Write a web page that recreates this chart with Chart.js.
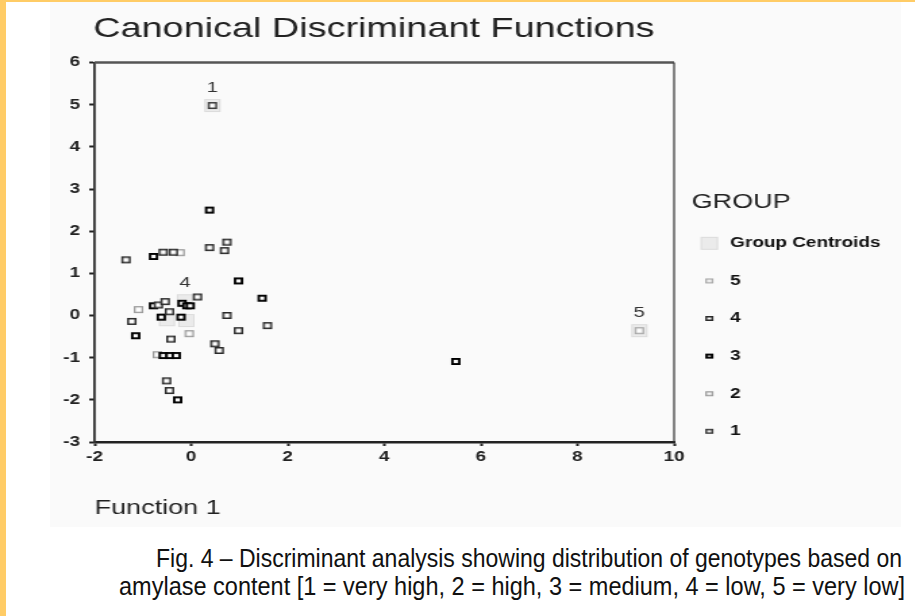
<!DOCTYPE html>
<html>
<head>
<meta charset="utf-8">
<script src="https://cdn.jsdelivr.net/npm/chart.js@4.4.1/dist/chart.umd.min.js"></script>
<style>
  html, body { margin: 0; padding: 0; }
  body { width: 915px; height: 616px; background: #fff; position: relative; overflow: hidden;
         font-family: "Liberation Sans", Arial, sans-serif; }
  #stripeL { position: absolute; left: 0; top: 0; width: 6px; height: 616px; background: #ffcc66; }
  #stripeT { position: absolute; left: 0; top: 0; width: 915px; height: 2px; background: #ffcc66; }
  #panel { position: absolute; left: 50px; top: 2px; width: 851px; height: 525px; background: #fafafa; }
  .cap { position: absolute; font-size: 26px; line-height: 26px; color: #111; white-space: nowrap; transform-origin: 0 0; }
</style>
</head>
<body>
<div id="stripeL"></div>
<div id="stripeT"></div>
<div id="panel"><canvas id="plot" width="630" height="525" style="width:851px;height:525px"></canvas></div>
<div class="cap" data-w="746" style="left:156px; top:545px;">Fig. 4 – Discriminant analysis showing distribution of genotypes based on</div>
<div class="cap" data-w="786" style="left:119px; top:573px;">amylase content [1 = very high, 2 = high, 3 = medium, 4 = low, 5 = very low]</div>
<script>
// tick values
const X_TICKS = [-2, 0, 2, 4, 6, 8, 10];
const Y_TICKS = [-3, -2, -1, 0, 1, 2, 3, 4, 5, 6];

// legend entries, top to bottom
const groupNames = ['Group Centroids', '5', '4', '3', '2', '1'];

// centroids of groups 1..5
const centroidX = [0.44, -0.50, -0.10, -0.13, 9.28];
const centroidY = [4.98, -0.10, -0.12, 0.35, -0.36];
const centroidTags = ['1', '', '', '4', '5'];

// genotypes (function 1, function 2) per group
const g1X = [0.44];
const g1Y = [4.98];
const g2X = [-0.23, -1.09, -0.04, -0.70];
const g2Y = [1.49, 0.14, -0.43, -0.93];
const g3X = [0.38, -0.78, 0.98, 1.47, -0.19, -0.09, -0.02, -0.78, -0.62, -0.21, -1.15, -0.58, -0.44, -0.31, -0.28, 5.48];
const g3Y = [2.50, 1.40, 0.82, 0.41, 0.29, 0.23, 0.23, 0.23, -0.04, -0.04, -0.48, -0.95, -0.95, -0.95, -2.00, -1.09];
const g4X = [0.38, 0.74, 0.69, -1.35, -0.58, -0.37, 0.13, -0.68, -0.54, -0.45, -1.23, 0.74, 0.98, 1.58, -0.42, 0.49, 0.58, -0.51, -0.45];
const g4Y = [1.61, 1.74, 1.54, 1.32, 1.50, 1.50, 0.44, 0.25, 0.33, 0.09, -0.14, 0.00, -0.36, -0.24, -0.56, -0.67, -0.83, -1.55, -1.78];
const g5X = [9.28];
const g5Y = [-0.36];

function pts(xs, ys) { return xs.map((x, i) => ({ x: x, y: ys[i] })); }

// little square markers drawn once and used as point styles
function markerCanvas(w, h, stroke, fill, lw, shift) {
  shift = shift || 0;
  const c = document.createElement('canvas');
  c.width = Math.ceil(w + 2 + 2 * Math.abs(shift));
  c.height = Math.ceil(h + 2);
  const g = c.getContext('2d');
  const x0 = (c.width - w) / 2 + shift, y0 = (c.height - h) / 2;
  g.fillStyle = fill;
  g.fillRect(x0, y0, w, h);
  g.strokeStyle = stroke;
  g.lineWidth = lw;
  g.strokeRect(x0 + lw / 2, y0 + lw / 2, w - lw, h - lw);
  return c;
}

const looks = [
  { stroke: '#dcdcdc', fill: '#ebebeb', lw: 1 },   // centroids
  { stroke: '#a8a8a8', fill: '#fdfdfd', lw: 1.3 }, // 5
  { stroke: '#2a2a2a', fill: '#fdfdfd', lw: 1.5 }, // 4
  { stroke: '#000000', fill: '#fafafa', lw: 1.9 }, // 3
  { stroke: '#9a9a9a', fill: '#fdfdfd', lw: 1.3 }, // 2
  { stroke: '#3a3a3a', fill: '#fdfdfd', lw: 1.5 }  // 1
];
const plotImgs = looks.map((l, i) => i === 0 ? markerCanvas(12, 13, l.stroke, l.fill, l.lw)
                                             : markerCanvas(7, 7, l.stroke, l.fill, l.lw));
const legendImgs = looks.map((l, i) => i === 0 ? markerCanvas(13, 13, l.stroke, l.fill, l.lw, -3)
                                               : markerCanvas(6, 5, l.stroke, l.fill, l.lw, -3));

const seriesData = [
  pts(centroidX, centroidY),
  pts(g5X, g5Y),
  pts(g4X, g4Y),
  pts(g3X, g3Y),
  pts(g2X, g2Y),
  pts(g1X, g1Y)
];

// top and right edges of the plot frame
const frame = {
  id: 'frame',
  beforeDatasetsDraw(chart) {
    const ctx = chart.ctx, a = chart.chartArea;
    ctx.save();
    ctx.strokeStyle = '#555';
    ctx.lineWidth = 2.5;
    ctx.beginPath(); ctx.moveTo(a.left, a.top); ctx.lineTo(a.right, a.top); ctx.stroke();
    ctx.strokeStyle = '#333';
    ctx.lineWidth = 1.2;
    ctx.beginPath(); ctx.moveTo(a.right, a.top); ctx.lineTo(a.right, a.bottom); ctx.stroke();
    ctx.restore();
  }
};

// fixed legend width, and the GROUP heading nudged in a little
const legendFit = {
  id: 'legendFit',
  beforeLayout(chart) {
    const lg = chart.legend;
    if (!lg || lg._fixed) return;
    const fit = lg.fit;
    lg.fit = function () { fit.call(this); this.width = 160; };
    ['drawTitle', '_drawTitle'].forEach(name => {
      const orig = lg[name];
      if (typeof orig !== 'function') return;
      lg[name] = function () {
        this.ctx.save();
        this.ctx.translate(13, 0);
        orig.apply(this, arguments);
        this.ctx.restore();
      };
    });
    lg._fixed = true;
  }
};

// group numbers written above the centroids
const centroidLabels = {
  id: 'centroidLabels',
  afterDatasetsDraw(chart) {
    const ctx = chart.ctx;
    const meta = chart.getDatasetMeta(0);
    ctx.save();
    ctx.font = '15px "Liberation Sans", Arial, sans-serif';
    ctx.fillStyle = '#333';
    ctx.textAlign = 'center';
    ctx.textBaseline = 'middle';
    meta.data.forEach((p, i) => {
      if (centroidTags[i]) ctx.fillText(centroidTags[i], p.x, p.y - 18);
    });
    ctx.restore();
  }
};

Chart.defaults.font.family = '"Liberation Sans", Arial, sans-serif';
Chart.defaults.color = '#222';

const chart = new Chart(document.getElementById('plot'), {
  type: 'scatter',
  data: {
    datasets: seriesData.map((d, i) => ({
      label: groupNames[i],
      data: d,
      pointStyle: plotImgs[i],
      pointRadius: 4,
      pointHoverRadius: 4,
      order: i === 0 ? 2 : 1
    }))
  },
  options: {
    responsive: false,
    animation: false,
    devicePixelRatio: 1,
    events: [],
    layout: { padding: { left: 32, right: 8, top: 0, bottom: 0 } },
    scales: {
      x: {
        type: 'linear', min: -2, max: 10,
        afterBuildTicks: s => { s.ticks = X_TICKS.map(v => ({ value: v })); },
        afterFit: s => { s.height = 85; },
        ticks: { font: { size: 14, weight: 'bold' }, color: '#222', padding: 3 },
        grid: { drawOnChartArea: false, tickLength: 4, tickWidth: 2, tickColor: '#222' },
        border: { color: '#222', width: 2.5 },
        title: { display: true, text: 'Function 1', align: 'start', color: '#222',
                 font: { size: 20, weight: 'normal', lineHeight: 1.2 }, padding: { top: 0, bottom: 7 } }
      },
      y: {
        type: 'linear', min: -3, max: 6,
        afterBuildTicks: s => { s.ticks = Y_TICKS.map(v => ({ value: v })); },
        afterFit: s => { s.width = 1; },
        ticks: { font: { size: 14, weight: 'bold' }, color: '#222', mirror: true, crossAlign: 'far', padding: -23.2 },
        grid: { drawOnChartArea: false, tickLength: 4, tickWidth: 2, tickColor: '#222' },
        border: { color: '#333', width: 1.8 }
      }
    },
    plugins: {
      tooltip: { enabled: false },
      title: {
        display: true, text: 'Canonical Discriminant Functions', align: 'start', color: '#222',
        font: { size: 28, weight: 'normal', lineHeight: 1.2 }, padding: { top: 10, bottom: 16.9 }
      },
      legend: {
        position: 'right', align: 'start', fullSize: true,
        title: { display: true, text: 'GROUP', position: 'start', color: '#222',
                 font: { size: 20, weight: 'normal', lineHeight: 1 }, padding: { top: 190.7, bottom: 0 } },
        labels: {
          usePointStyle: true, pointStyleWidth: 11, padding: 23.6, color: '#111',
          font: { size: 14, weight: 'bold' },
          sort: (a, b) => a.datasetIndex - b.datasetIndex,
          generateLabels: c => Chart.defaults.plugins.legend.labels.generateLabels(c)
            .map(it => Object.assign(it, { pointStyle: legendImgs[it.datasetIndex] }))
        }
      }
    }
  },
  plugins: [frame, legendFit, centroidLabels]
});

// caption lines squeezed to the printed widths
document.querySelectorAll('.cap').forEach(el => {
  const w = el.getBoundingClientRect().width;
  el.style.transform = 'scaleX(' + (Number(el.dataset.w) / w) + ')';
});
</script>
</body>
</html>
